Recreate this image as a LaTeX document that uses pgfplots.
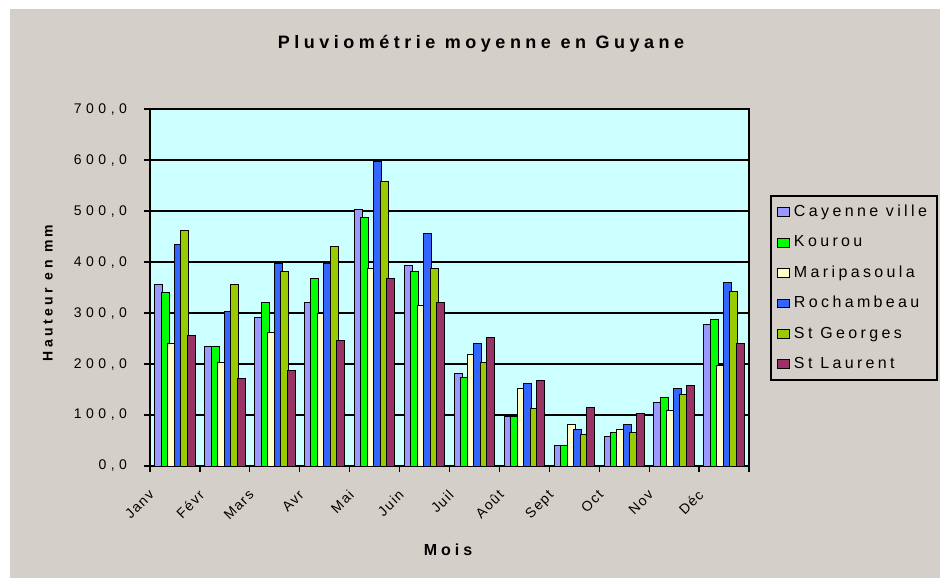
\documentclass[border=0pt]{standalone}
\usepackage{fontspec}
\setmainfont{Liberation Sans}[LetterSpace=25]
\newfontfamily\monthfont{Liberation Sans}[LetterSpace=10]
\newfontfamily\tickfont{Liberation Sans}[LetterSpace=32]
\newfontfamily\legfont{Liberation Sans}[LetterSpace=21]
\usepackage{pgfplots}
\usepackage{pgfplotstable}
\pgfplotsset{compat=1.18}
\definecolor{bg}{HTML}{D5CFC9}
\definecolor{plotbg}{HTML}{CCFFFF}
\definecolor{cay}{HTML}{9999FF}
\definecolor{kou}{HTML}{00FF00}
\definecolor{mar}{HTML}{FFFFCC}
\definecolor{roc}{HTML}{3366FF}
\definecolor{stg}{HTML}{99CC00}
\definecolor{stl}{HTML}{993366}

\pgfplotstableread{
x cay kou mar roc stg stl
0  356 340 240 435 462 256
1  235 235 202 303 356 172
2  292 320 261 397 382 188
3  320 367 299 397 431 246
4  503 488 387 598 557 367
5  393 382 314 456 388 320
6  182 173 218 241 202 251
7  98  98  152 161 112 168
8  41  40  82  72  61  115
9  57  66  72  82  66  103
10 125 135 108 152 140 157
11 278 288 197 359 343 240
}\data

\pgfplotsset{myleg/.style={legend image code/.code={\draw[##1,draw=black,line width=0.5pt] (0pt,-2.2pt) rectangle (6pt,2.2pt);}}}

\begin{document}
\begin{tikzpicture}[x=0.5pt,y=0.5pt]
\fill[white] (0,0) rectangle (940,578);
\fill[bg] (10,0) rectangle (940,569);
\path[use as bounding box] (0,0) rectangle (940,578);
\node[font=\bfseries\fontsize{9}{11}\selectfont] at (481,534) {Pluviométrie moyenne en Guyane};
\node[font=\bfseries\fontsize{7}{9}\selectfont, rotate=90] at (48,285) {Hauteur en mm};
\node[font=\bfseries\fontsize{8}{10}\selectfont] at (448,28) {Mois};
\begin{axis}[
  at={(75pt,56pt)}, anchor=south west,
  width=299.5pt, height=178.5pt, scale only axis,
  xmin=-0.5, xmax=11.5, ymin=0, ymax=700,
  ytick={0,100,...,700},
  ymajorgrids, grid style={black, line width=0.75pt},
  axis background/.style={fill=plotbg},
  axis line style={black, line width=0.6pt},
  tick pos=left, tick align=outside, major tick length=3pt,
  tick style={black, line width=0.6pt},
  xtick={-0.5,0.5,...,11.5},
  xticklabels={Janv,Févr,Mars,Avr,Mai,Juin,Juil,Août,Sept,Oct,Nov,Déc,{}},
  x tick label style={font=\monthfont\fontsize{7}{8}\selectfont, anchor=north east, xshift=-1pt, yshift=-3.5pt, rotate=45},
  y tick label style={font=\tickfont\fontsize{7}{8}\selectfont, xshift=-5pt},
  yticklabel={\pgfmathprintnumber[fixed, fixed zerofill, precision=1, use comma, assume math mode=true]{\tick}},
  ybar, bar width=0.16,
  legend style={at={(axis description cs:1.035,0.759)}, anchor=north west, draw=black, line width=1pt, fill=none,
    font=\legfont\fontsize{8}{10}\selectfont, row sep=4pt, inner xsep=3pt, inner ysep=2.5pt},
  legend cell align=left,
]
\addplot[fill=cay, draw=black, line width=0.5pt, bar shift=-0.325, myleg] table[x=x,y=cay]{\data};
\addplot[fill=kou, draw=black, line width=0.5pt, bar shift=-0.195, myleg] table[x=x,y=kou]{\data};
\addplot[fill=mar, draw=black, line width=0.5pt, bar shift=-0.065, myleg] table[x=x,y=mar]{\data};
\addplot[fill=roc, draw=black, line width=0.5pt, bar shift=0.065, myleg] table[x=x,y=roc]{\data};
\addplot[fill=stg, draw=black, line width=0.5pt, bar shift=0.195, myleg] table[x=x,y=stg]{\data};
\addplot[fill=stl, draw=black, line width=0.5pt, bar shift=0.325, myleg] table[x=x,y=stl]{\data};
\legend{Cayenne ville,Kourou,Maripasoula,Rochambeau,St Georges,St Laurent}
\end{axis}
\end{tikzpicture}
\end{document}
